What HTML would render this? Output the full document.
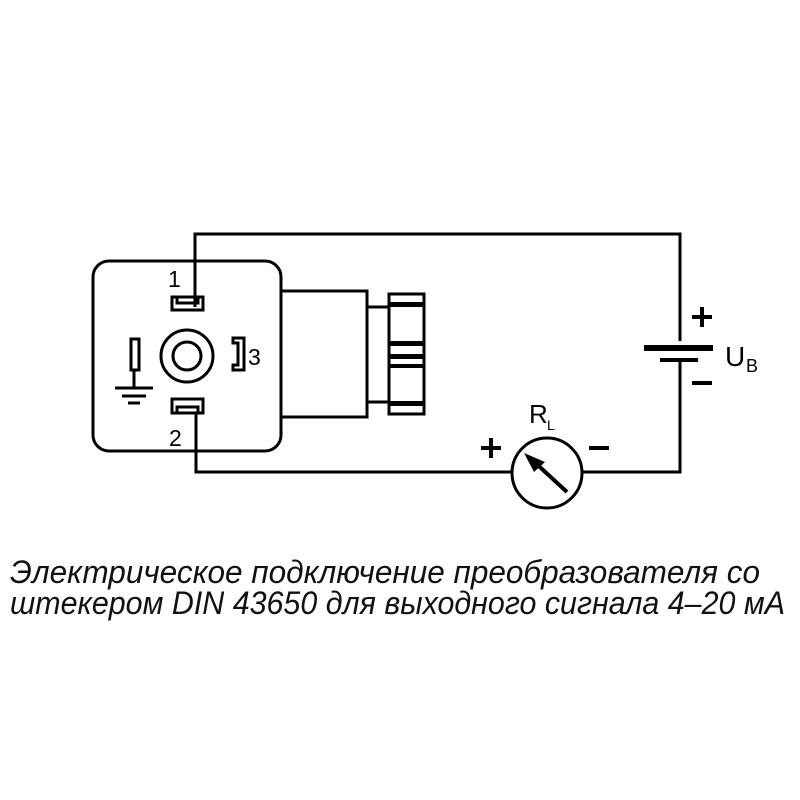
<!DOCTYPE html>
<html><head><meta charset="utf-8"><style>html,body{margin:0;padding:0;background:#fff}svg{display:block}</style></head>
<body>
<svg width="800" height="800" viewBox="0 0 800 800" xmlns="http://www.w3.org/2000/svg" font-family="Liberation Sans, sans-serif">
<g fill="none" stroke="#000" stroke-width="3">
<polyline points="195,307 195,234 680,234 680,341"/>
<polyline points="680,361 680,472 582,472"/>
<polyline points="196,413 196,472 512,472"/>
<rect x="93" y="261" width="188" height="190" rx="16"/>
<circle cx="187" cy="356" r="26"/>
<circle cx="187" cy="356" r="14"/>
<rect x="281" y="291" width="86" height="126"/>
<rect x="367" y="307" width="22" height="95"/>
<rect x="389" y="294" width="35" height="120"/>
<rect x="131" y="339" width="8" height="31"/>
<line x1="134" y1="370" x2="134" y2="388"/>
<line x1="115" y1="388" x2="153" y2="388"/>
<line x1="122" y1="396" x2="146" y2="396"/>
<line x1="128" y1="403" x2="140" y2="403"/>
<path d="M172,297 h31 v13 h-31 z M177,297 v6 h21 v-6"/>
<path d="M172,413 h31 v-14 h-31 z M177,413 v-6 h21 v6"/>
<path d="M233,338 h11 v32 h-11 v-5 h5 v-22 h-5 z"/>
<circle cx="547" cy="473" r="35"/>
</g>
<g fill="#000">
<rect x="389" y="302" width="35" height="5"/>
<rect x="389" y="341" width="35" height="5"/>
<rect x="389" y="354" width="35" height="5"/>
<rect x="389" y="364" width="35" height="4"/>
<rect x="389" y="401" width="35" height="5"/>
<rect x="644" y="345" width="69" height="6"/>
<rect x="660" y="358" width="38" height="4"/>
<line x1="567" y1="492" x2="530" y2="458" stroke="#000" stroke-width="4"/>
<polygon points="524,453 545,462 534,472"/>
</g>
<g font-size="23" fill="#000">
<text x="168" y="287">1</text>
<text x="169" y="446">2</text>
<text x="248" y="365">3</text>
<text x="529" y="423" font-size="26">R</text><text x="547" y="430" font-size="14">L</text>
<text x="725" y="366" font-size="28">U</text><text x="746" y="372" font-size="18">B</text>
</g>
<g fill="#000">
<rect x="692" y="315" width="20" height="4"/><rect x="700" y="307" width="4" height="20"/>
<rect x="692" y="381" width="20" height="4"/>
<rect x="481" y="446" width="20" height="4"/><rect x="489" y="438" width="4" height="20"/>
<rect x="589" y="446" width="20" height="4"/>
</g>
<g font-style="italic" font-size="32" fill="#111">
<text x="10" y="583" textLength="750" lengthAdjust="spacingAndGlyphs">Электрическое подключение преобразователя со</text>
<text x="10" y="614" textLength="775" lengthAdjust="spacingAndGlyphs">штекером DIN 43650 для выходного сигнала 4–20 мА</text>
</g>
</svg>
</body></html>
